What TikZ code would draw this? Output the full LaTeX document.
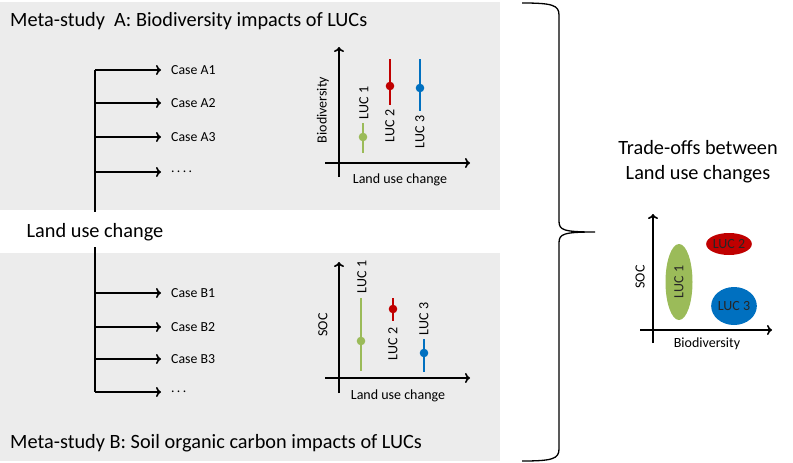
\documentclass[tikz,border=0pt]{standalone}
\usepackage{fontspec}
\setmainfont{Carlito}
\usetikzlibrary{arrows.meta,shapes.geometric}
\definecolor{panel}{RGB}{236,236,236}
\definecolor{lucgreen}{RGB}{155,187,89}
\definecolor{lucred}{RGB}{192,0,0}
\definecolor{lucblue}{RGB}{0,112,192}
\begin{document}
\begin{tikzpicture}[x=1pt,y=-1pt,
  line/.style={line width=1.6pt,black},
  arr/.style={line width=1.6pt,-{To[length=5pt,width=10pt,line width=1.6pt]}},
  big/.style={font=\fontsize{20.3}{24}\selectfont,inner sep=0pt},
  case/.style={font=\fontsize{13.8}{16}\selectfont,anchor=west,inner sep=0pt},
  lbl/.style={font=\fontsize{14}{16}\selectfont,inner sep=0pt},
  rlbl/.style={font=\fontsize{14}{16}\selectfont,inner sep=0pt,rotate=90},
  bar/.style={line width=1.8pt},
  blob/.style={ellipse,inner sep=0pt,font=\fontsize{14}{16}\selectfont,text=black!85}]
\useasboundingbox (0,0) rectangle (793,463);
% panels
\fill[panel] (0,2) rectangle (500,210);
\fill[panel] (0,253) rectangle (500,461);
% titles
\node[big,anchor=west] (tA) at (10,21) {Meta-study\ \ A: Biodiversity impacts of LUCs};
\node[big,anchor=west] (tB) at (10,443) {Meta-study B: Soil organic carbon impacts of LUCs};
\node[big] (luc) at (95,232) {Land use change};
% tree A
\coordinate (a0) at (95,70);
\coordinate (aend) at (95,212);
\draw[line] (a0) -- (aend);
\foreach \y/\t [count=\i] in {70/Case A1,103/Case A2,137/Case A3,172/{.\,.\,.\,.}}{
  \node[case] (ca\i) at (171,\y) {\t};
  \coordinate (ta\i) at (95,\y);
  \draw[arr] (ta\i) -- ([xshift=-10pt]ca\i.west);
}
% tree B
\coordinate (b0) at (95,247);
\coordinate (bend) at (95,392);
\draw[line] (b0) -- (bend);
\foreach \y/\t [count=\i] in {293/Case B1,327/Case B2,359/Case B3,392/{.\,.\,.}}{
  \node[case] (cb\i) at (171,\y) {\t};
  \coordinate (tb\i) at (95,\y);
  \draw[arr] (tb\i) -- ([xshift=-10pt]cb\i.west);
}
% chart A
\coordinate (axo) at (325,163); \coordinate (axe) at (470,163);
\coordinate (ayo) at (339,177); \coordinate (aye) at (339,47);
\draw[arr] (axo) -- (axe);
\draw[arr] (ayo) -- (aye);
\node[rlbl] (ayl) at (323,110) {Biodiversity};
\node[lbl] (axl) at (400,180) {Land use change};
\draw[bar,lucgreen] (363,123) -- (363,153); \fill[lucgreen] (363,137) circle (4.3);
\draw[bar,lucred] (390,59) -- (390,105); \fill[lucred] (390,86) circle (4.3);
\draw[bar,lucblue] (420,59) -- (420,111); \fill[lucblue] (420,88) circle (4.3);
\node[rlbl] (a1) at (364,103) {LUC 1};
\node[rlbl] (a2) at (390,126) {LUC 2};
\node[rlbl] (a3) at (420,132) {LUC 3};
% chart B
\coordinate (bxo) at (325,378); \coordinate (bxe) at (470,378);
\coordinate (byo) at (339,393); \coordinate (bye) at (339,262);
\draw[arr] (bxo) -- (bxe);
\draw[arr] (byo) -- (bye);
\node[rlbl] (byl) at (323,325) {SOC};
\node[lbl] (bxl) at (398,396) {Land use change};
\draw[bar,lucgreen] (361,298) -- (361,371); \fill[lucgreen] (361,341) circle (4.3);
\draw[bar,lucred] (393,298) -- (393,321); \fill[lucred] (393,309) circle (4.3);
\draw[bar,lucblue] (424,339) -- (424,372); \fill[lucblue] (424,353) circle (4.3);
\node[rlbl] (b1) at (362,277) {LUC 1};
\node[rlbl] (b2) at (393,344) {LUC 2};
\node[rlbl] (b3) at (424,319) {LUC 3};
% brace
\draw[line,line width=1.3pt] (522,3) .. controls (552,3) and (559,5) .. (559,15) -- (559,221)
  .. controls (559,230) and (563,232) .. (595,232)
  .. controls (563,232) and (559,234) .. (559,243) -- (559,449)
  .. controls (559,459) and (552,461) .. (522,461);
% right
\node[big,align=center,font=\fontsize{20.3}{25}\selectfont] (tr) at (698,162) {Trade-offs between\\Land use changes};
\coordinate (cxo) at (640,330); \coordinate (cxe) at (772,330);
\coordinate (cyo) at (653,343); \coordinate (cye) at (653,214);
\draw[arr] (cxo) -- (cxe);
\draw[arr] (cyo) -- (cye);
\node[rlbl] (cyl) at (640,277) {SOC};
\node[lbl] (cxl) at (707,344) {Biodiversity};
\node[blob,fill=lucgreen,minimum width=76pt,minimum height=27pt,rotate=90] (e1) at (679,282) {LUC 1};
\node[blob,fill=lucred,minimum width=42pt,minimum height=22pt] (e2) at (729,244) {LUC 2};
\node[blob,fill=lucblue,minimum width=43pt,minimum height=38pt] (e3) at (734,306) {LUC 3};
\end{tikzpicture}
\end{document}
